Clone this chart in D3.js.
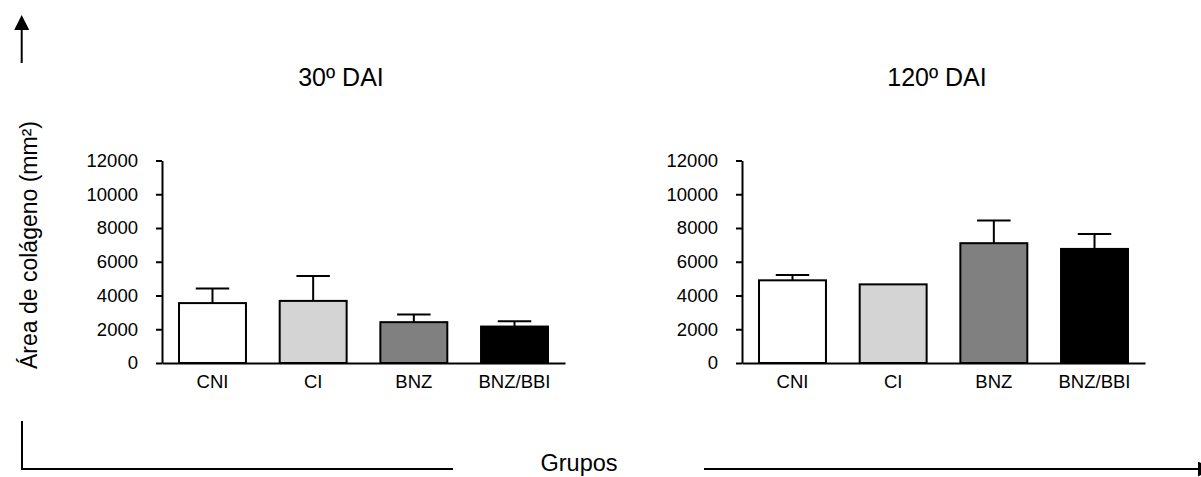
<!DOCTYPE html>
<html lang="pt">

<head>
    <meta charset="UTF-8">
    <title>Área de colágeno</title>
    <style>
        body {
            margin: 0;
            background: white;
        }

        #svg {
            display: block;
            font-family: "Liberation Sans", Arial, sans-serif;
        }
    </style>
    <script src="https://d3js.org/d3.v7.min.js"></script>
</head>

<body>
    <svg id="svg"></svg>
    <script>
        const width = 1201;
        const height = 477;

        // data
        const groups = ['CNI', 'CI', 'BNZ', 'BNZ/BBI'];
        const titles = ['30º DAI', '120º DAI'];
        const means30 = [3550, 3680, 2420, 2160];
        const errTop30 = [4420, 5150, 2870, 2470];
        const means120 = [4900, 4660, 7100, 6760];
        const errTop120 = [5220, 4660, 8440, 7640];
        const yTicks = [0, 2000, 4000, 6000, 8000, 10000, 12000];
        const fills = ['#ffffff', '#d4d4d4', '#808080', '#000000'];

        const panels = [
            { title: titles[0], means: means30, errs: errTop30, x0: 162, titleX: 341 },
            { title: titles[1], means: means120, errs: errTop120, x0: 742, titleX: 937 }
        ];

        const svg = d3.select('#svg')
            .attr('width', width)
            .attr('height', height);

        const y = d3.scaleLinear()
            .domain([0, 12000])
            .range([363, 160.5]);

        const x = d3.scaleBand()
            .domain(groups)
            .range([0, 403])
            .paddingInner(0.335)
            .paddingOuter(0.169);

        panels.forEach(function (p) {
            const g = svg.append('g')
                .attr('transform', 'translate(' + p.x0 + ',0)');

            // title
            svg.append('text')
                .attr('x', p.titleX)
                .attr('y', 86)
                .attr('text-anchor', 'middle')
                .style('font-size', '25px')
                .text(p.title);

            // bars
            g.selectAll('rect.bar')
                .data(groups)
                .enter()
                .append('rect')
                .attr('class', 'bar')
                .attr('x', d => x(d))
                .attr('y', (d, i) => y(p.means[i]))
                .attr('width', x.bandwidth())
                .attr('height', (d, i) => y(0) - y(p.means[i]))
                .attr('fill', (d, i) => fills[i])
                .attr('stroke', '#000')
                .attr('stroke-width', 2);

            // error bars (upper only)
            const cap = x.bandwidth() / 2;
            g.selectAll('line.stem')
                .data(groups)
                .enter()
                .append('line')
                .attr('class', 'stem')
                .attr('x1', d => x(d) + x.bandwidth() / 2)
                .attr('x2', d => x(d) + x.bandwidth() / 2)
                .attr('y1', (d, i) => y(p.means[i]))
                .attr('y2', (d, i) => y(p.errs[i]))
                .attr('stroke', '#000')
                .attr('stroke-width', 2);
            g.selectAll('line.cap')
                .data(groups.filter((d, i) => p.errs[i] > p.means[i]))
                .enter()
                .append('line')
                .attr('class', 'cap')
                .attr('x1', d => x(d) + x.bandwidth() / 2 - cap / 2)
                .attr('x2', d => x(d) + x.bandwidth() / 2 + cap / 2)
                .attr('y1', d => y(p.errs[groups.indexOf(d)]))
                .attr('y2', d => y(p.errs[groups.indexOf(d)]))
                .attr('stroke', '#000')
                .attr('stroke-width', 2);

            // x axis
            const xAxis = g.append('g')
                .attr('transform', 'translate(0,' + y(0) + ')')
                .call(d3.axisBottom(x).tickSize(0).tickPadding(12));
            xAxis.select('.domain').attr('stroke-width', 2);
            xAxis.selectAll('text')
                .style('font-size', '18.5px')
                .style('font-family', '"Liberation Sans", Arial, sans-serif')
                .attr('fill', '#000');

            // y axis
            const yAxis = g.append('g')
                .call(d3.axisLeft(y).tickValues(yTicks).tickSizeInner(6).tickSizeOuter(0).tickPadding(18).tickFormat(d3.format('d')));
            yAxis.selectAll('.domain, line').attr('stroke-width', 2);
            yAxis.selectAll('text')
                .style('font-size', '18.5px')
                .style('font-family', '"Liberation Sans", Arial, sans-serif')
                .attr('fill', '#000');
        });

        // y title and arrow
        svg.append('text')
            .attr('transform', 'translate(37,245) rotate(-90)')
            .attr('text-anchor', 'middle')
            .style('font-size', '23px')
            .text('Área de colágeno (mm²)');

        const defs = svg.append('defs');
        defs.append('marker')
            .attr('id', 'arrow')
            .attr('viewBox', '0 0 10 10')
            .attr('refX', 0)
            .attr('refY', 5)
            .attr('markerWidth', 7.5)
            .attr('markerHeight', 7.5)
            .attr('orient', 'auto')
            .append('path')
            .attr('d', 'M0,0 L10,5 L0,10 Z')
            .attr('fill', '#000');

        svg.append('line')
            .attr('x1', 21.7).attr('y1', 63)
            .attr('x2', 21.7).attr('y2', 30)
            .attr('stroke', '#000')
            .attr('stroke-width', 2)
            .attr('marker-end', 'url(#arrow)');

        // bottom "Grupos" bracket
        svg.append('path')
            .attr('d', 'M22,421 V469 H453')
            .attr('fill', 'none')
            .attr('stroke', '#000')
            .attr('stroke-width', 2);
        svg.append('line')
            .attr('x1', 704).attr('y1', 469)
            .attr('x2', 1198).attr('y2', 469)
            .attr('stroke', '#000')
            .attr('stroke-width', 2)
            .attr('marker-end', 'url(#arrow)');
        svg.append('text')
            .attr('x', 579)
            .attr('y', 471)
            .attr('text-anchor', 'middle')
            .style('font-size', '23.5px')
            .text('Grupos');
    </script>
</body>

</html>
